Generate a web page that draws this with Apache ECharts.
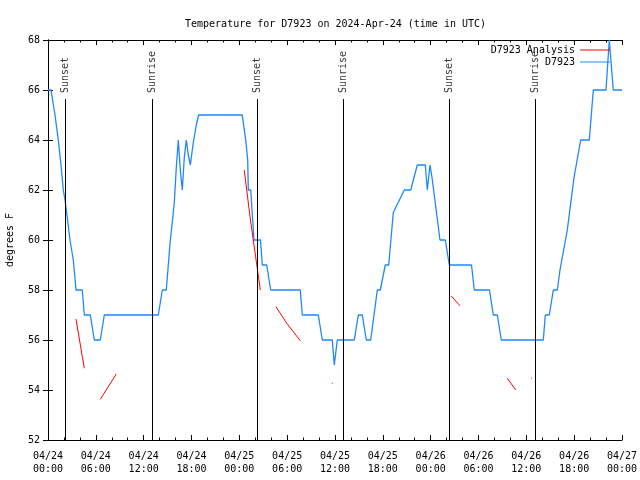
<!DOCTYPE html>
<html>
<head>
<meta charset="utf-8">
<script src="https://cdn.jsdelivr.net/npm/echarts@6/dist/echarts.min.js"></script>
<style>html,body{margin:0;padding:0;background:#fff}#c{width:640px;height:480px}</style>
</head>
<body>
<div id="c"></div>
<script>
// Hours since 2024-04-24 00:00 UTC
const xTickLabels = ['04/24\n00:00','04/24\n06:00','04/24\n12:00','04/24\n18:00','04/25\n00:00','04/25\n06:00','04/25\n12:00','04/25\n18:00','04/26\n00:00','04/26\n06:00','04/26\n12:00','04/26\n18:00','04/27\n00:00'];
const yTicks = [52,54,56,58,60,62,64,66,68];

const obsHours = [0,0.376,0.878,1.292,1.631,1.919,2.132,2.383,2.759,3.174,3.512,4.302,4.553,5.306,5.808,6.560,7.062,13.836,14.337,14.839,15.341,15.554,15.843,16.093,16.344,16.595,16.846,17.097,17.348,17.599,17.850,18.226,18.602,18.903,24.372,24.497,24.799,25.050,25.125,25.426,25.840,26.655,26.881,27.433,27.935,31.648,31.898,33.905,34.407,35.661,35.912,36.288,38.421,38.923,39.424,39.926,40.478,41.306,41.682,42.309,42.736,43.313,44.693,45.496,46.324,47.327,47.578,47.917,48.168,49.171,49.836,50.338,53.122,53.474,55.380,55.857,56.359,56.861,62.129,62.380,62.881,63.383,63.885,64.223,65.139,65.980,66.820,67.899,68.401,69.994,70.408,70.910,72.0];
const obsTemps = [66,66,65,64,63,62,61.6,61,60,59.2,58,58,57,57,56,56,57,57,58,58,60,60.6,61.5,62.9,64,62.8,62,63.3,64,63.4,63,63.9,64.6,65,65,64.7,64,63.2,62,62,60,60,59,59,58,58,57,57,56,56,55,56,56,57,57,56,56,58,58,59,59,61.1,62,62,63,63,62,63,62.5,60,60,59,59,58,58,57,57,56,56,57,57,58,58,58.8,60.4,62.5,64,64,66,66,68,66,66];

const anaHours = [3.51,4.55,null,6.56,8.57,null,24.62,25.34,26.63,null,28.60,29.94,31.65,null,35.60,35.72,null,50.59,51.68,null,57.61,58.67,null,60.58,60.70];
const anaTemps = [56.84,54.87,null,53.63,54.64,null,62.8,60.93,58.0,null,57.33,56.67,55.97,null,54.27,54.27,null,57.76,57.37,null,54.47,54.0,null,54.47,54.47];

const sunHours = [2.13,13.08,26.25,37.04,50.34,61.15];
const sunLabels = ['Sunset','Sunrise','Sunset','Sunrise','Sunset','Sunrise'];
const sunLineTop = 65.64;
const sunLabelBase = 65.88;

const FONT = '"DejaVu Sans Mono", "Liberation Mono", monospace';

const obsData = obsHours.map((h,i)=>[h, obsTemps[i]]);
const anaData = anaHours.map((h,i)=> h === null ? '-' : [h, anaTemps[i]]);
const sunMarks = sunHours.map(h => [{coord:[h,52]},{coord:[h,sunLineTop]}]);
const sunLabelData = sunHours.map((h,i)=>({value:[h, sunLabelBase], name: sunLabels[i]}));

const chart = echarts.init(document.getElementById('c'), null, {renderer:'canvas'});

const xCommon = {
  type:'value', min:0, max:72, interval:6,
  axisLine:{show:true, lineStyle:{color:'#000', width:1}},
  axisTick:{show:true, inside:true, length:5, lineStyle:{color:'#000'}},
  minorTick:{show:true, splitNumber:3, length:2.5, lineStyle:{color:'#000'}},
  splitLine:{show:false}
};
const yCommon = {
  type:'value', min:52, max:68, interval:2,
  axisLine:{show:true, lineStyle:{color:'#000', width:1}},
  axisTick:{show:true, inside:true, length:5, lineStyle:{color:'#000'}},
  splitLine:{show:false}
};

chart.setOption({
  animation:false,
  backgroundColor:'#fff',
  title:{
    text:'Temperature for D7923 on 2024-Apr-24 (time in UTC)',
    left:180, top:14,
    textStyle:{fontFamily:FONT, fontSize:10, fontWeight:'normal', color:'#000'}
  },
  grid:{left:48, right:18, top:40, bottom:40, containLabel:false, outerBoundsMode:'none'},
  legend:[
    {data:['D7923 Analysis'], right:30, top:45, padding:0, align:'right', icon:'rect', itemWidth:30, itemHeight:1, selectedMode:false,
     textStyle:{fontFamily:FONT, fontSize:10, color:'#000'}},
    {data:['D7923'], right:30, top:57, padding:0, align:'right', icon:'rect', itemWidth:30, itemHeight:1, selectedMode:false,
     textStyle:{fontFamily:FONT, fontSize:10, color:'#000'}}
  ],
  xAxis:[
    Object.assign({}, xCommon, {position:'bottom',
      axisLabel:{show:true, margin:10, fontFamily:FONT, fontSize:10, color:'#000', lineHeight:13,
        formatter: v => xTickLabels[Math.round(v/6)]}}),
    Object.assign({}, xCommon, {position:'top', axisLabel:{show:false}})
  ],
  yAxis:[
    Object.assign({}, yCommon, {position:'left', name:'degrees F', nameLocation:'middle', nameGap:33,
      nameTextStyle:{fontFamily:FONT, fontSize:10, color:'#000'},
      axisLabel:{show:true, margin:8, fontFamily:FONT, fontSize:10, color:'#000',
        formatter: v => yTicks.indexOf(v) >= 0 ? String(v) : ''}}),
    Object.assign({}, yCommon, {position:'right', axisLabel:{show:false}})
  ],
  series:[
    {
      name:'D7923 Analysis', type:'line', data:anaData, showSymbol:false, symbol:'none',
      connectNulls:false, z:4,
      color:'#ff0000', lineStyle:{color:'#ff0000', width:1}
    },
    {
      name:'D7923', type:'line', data:obsData, showSymbol:false, symbol:'none', z:3,
      color:'#1e88ff', lineStyle:{color:'#1e88ff', width:1.3},
      markLine:{silent:true, symbol:['none','none'], animation:false,
        label:{show:false}, lineStyle:{color:'#000', width:1, type:'solid'},
        data: sunMarks}
    },
    {
      name:'sun', type:'scatter', data:sunLabelData, symbolSize:0, silent:true, z:5,
      label:{show:true, formatter: p => p.name, position:[0,0], rotate:90,
        align:'left', verticalAlign:'middle', fontFamily:FONT, fontSize:10, color:'#000'}
    }
  ]
});
</script>
</body>
</html>
